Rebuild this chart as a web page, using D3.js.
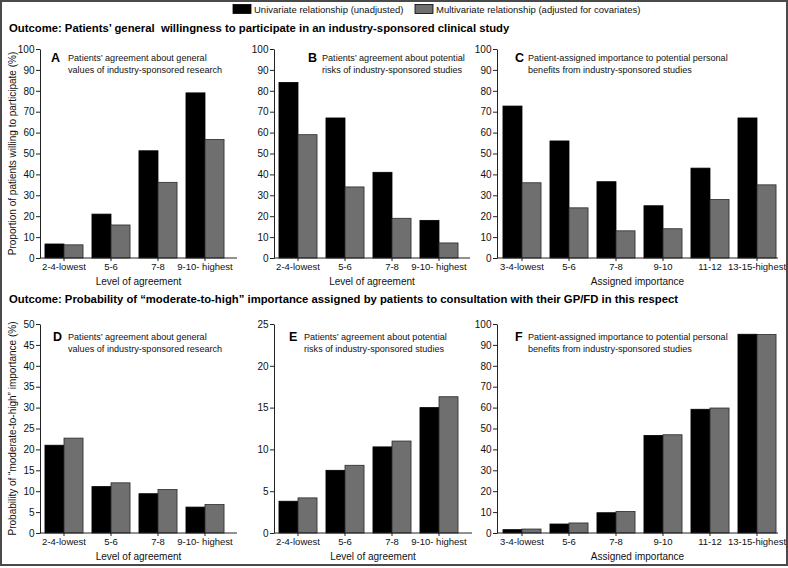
<!DOCTYPE html>
<html>
<head>
<meta charset="utf-8">
<script src="https://cdn.jsdelivr.net/npm/d3@7"></script>
<style>
  html, body { margin: 0; padding: 0; background: #fff; }
  svg { display: block; font-family: Arial, "Liberation Sans", sans-serif; }
</style>
</head>
<body>
<div id="chart"></div>
<script>
// categories
const agreementGroups = ["2-4-lowest", "5-6", "7-8", "9-10- highest"];
const importanceGroups = ["3-4-lowest", "5-6", "7-8", "9-10", "11-12", "13-15-highest"];
const seriesNames = ["Univariate relationship (unadjusted)", "Multivariate relationship (adjusted for covariates)"];

// outcome 1: willingness to participate (%)
const aUni = [6.7, 21, 51.3, 79];
const aMulti = [6.3, 15.8, 36.2, 56.7];
const bUni = [84, 67, 41, 18];
const bMulti = [59, 34, 19, 7.2];
const cUni = [72.7, 56, 36.5, 25, 43, 67];
const cMulti = [36, 24, 13, 14, 28, 35];

// outcome 2: probability of moderate-to-high importance (%)
const dUni = [21, 11.1, 9.4, 6.2];
const dMulti = [22.7, 12, 10.4, 6.8];
const eUni = [3.8, 7.5, 10.3, 15];
const eMulti = [4.2, 8.1, 11, 16.3];
const fUni = [1.6, 4.3, 9.7, 46.7, 59.2, 95.1];
const fMulti = [1.9, 4.8, 10.3, 47, 59.8, 95];

// tick labels
const ticks100 = [0, 10, 20, 30, 40, 50, 60, 70, 80, 90, 100];
const ticks50 = [0, 5, 10, 15, 20, 25, 30, 35, 40, 45, 50];
const ticks25 = [0, 5, 10, 15, 20, 25];

const W = 788, H = 568;
const colors = ["#000000", "#6f6f6f"];
const step = 47;

const svg = d3.select("#chart").append("svg")
    .attr("width", W)
    .attr("height", H);

// outer frame
svg.append("rect")
    .attr("x", 1).attr("y", 1)
    .attr("width", W - 2).attr("height", H - 4)
    .attr("fill", "none")
    .attr("stroke", "#4a4a4a")
    .attr("stroke-width", 2);

// legend
const legend = svg.append("g");
[[233, 254], [415, 436]].forEach(([sx, tx], i) => {
    legend.append("rect")
        .attr("x", sx).attr("y", 4.5)
        .attr("width", 18).attr("height", 9)
        .attr("fill", colors[i])
        .attr("stroke", "#000").attr("stroke-width", 0.8);
    legend.append("text")
        .attr("x", tx).attr("y", 12.5)
        .attr("font-size", 9.5)
        .attr("fill", "#111")
        .text(seriesNames[i]);
});

// row titles
svg.append("text")
    .attr("x", 9).attr("y", 32)
    .attr("font-size", 11.3).attr("font-weight", "bold")
    .attr("xml:space", "preserve")
    .text("Outcome: Patients\u2019 general  willingness to participate in an industry-sponsored clinical study");

svg.append("text")
    .attr("x", 9).attr("y", 303)
    .attr("font-size", 11.3).attr("font-weight", "bold")
    .text("Outcome: Probability of \u201cmoderate-to-high\u201d importance assigned by patients to consultation with their GP/FD in this respect");

const topRow = {top: 49, base: 258, capDy: 12};
const botRow = {top: 324, base: 533, capDy: 16};

const panels = [
    {row: topRow, x0: 40, x1: 237, c0: 64, cats: agreementGroups, uni: aUni, multi: aMulti, yMax: 100, ticks: ticks100,
     letter: "A", lx: 51, tx: 68, caption: ["Patients\u2019 agreement about general", "values of industry-sponsored research"],
     xTitle: "Level of agreement", yTitle: "Proportion of patients willing to participate (%)"},
    {row: topRow, x0: 274, x1: 470, c0: 298, cats: agreementGroups, uni: bUni, multi: bMulti, yMax: 100, ticks: ticks100,
     letter: "B", lx: 308, tx: 322, caption: ["Patients\u2019 agreement about potential", "risks of industry-sponsored studies"],
     xTitle: "Level of agreement"},
    {row: topRow, x0: 497, x1: 778, c0: 522, cats: importanceGroups, uni: cUni, multi: cMulti, yMax: 100, ticks: ticks100,
     letter: "C", lx: 515, tx: 528, caption: ["Patient-assigned importance to potential personal", "benefits from industry-sponsored studies"],
     xTitle: "Assigned importance"},
    {row: botRow, x0: 40, x1: 237, c0: 64, cats: agreementGroups, uni: dUni, multi: dMulti, yMax: 50, ticks: ticks50,
     letter: "D", lx: 53, tx: 68, caption: ["Patients\u2019 agreement about general", "values of industry-sponsored research"],
     xTitle: "Level of agreement", yTitle: "Probability of \u201cmoderate-to-high\u201d importance (%)"},
    {row: botRow, x0: 274, x1: 472, c0: 298, cats: agreementGroups, uni: eUni, multi: eMulti, yMax: 25, ticks: ticks25,
     letter: "E", lx: 289, tx: 304, caption: ["Patients\u2019 agreement about potential", "risks of industry-sponsored studies"],
     xTitle: "Level of agreement"},
    {row: botRow, x0: 497, x1: 778, c0: 522, cats: importanceGroups, uni: fUni, multi: fMulti, yMax: 100, ticks: ticks100,
     letter: "F", lx: 515, tx: 528, caption: ["Patient-assigned importance to potential personal", "benefits from industry-sponsored studies"],
     xTitle: "Assigned importance"}
];

function drawPanel(p) {
    const g = svg.append("g");
    const r = p.row;

    const y = d3.scaleLinear().domain([0, p.yMax]).range([r.base, r.top]);
    const start = p.c0 - step / 2;
    const x = d3.scaleBand()
        .domain(p.cats)
        .range([start, start + p.cats.length * step])
        .paddingInner(0.19)
        .paddingOuter(0.095);
    const xs = d3.scaleBand().domain([0, 1]).range([0, x.bandwidth()]);

    // bars
    const rows = p.cats.map((c, i) => ({cat: c, vals: [p.uni[i], p.multi[i]]}));
    g.append("g").selectAll("g")
        .data(rows)
        .join("g")
        .attr("transform", d => `translate(${x(d.cat)},0)`)
        .selectAll("rect")
        .data(d => d.vals.map((v, k) => ({k, v})))
        .join("rect")
        .attr("x", d => xs(d.k))
        .attr("y", d => y(d.v))
        .attr("width", xs.bandwidth())
        .attr("height", d => y(0) - y(d.v))
        .attr("fill", d => colors[d.k])
        .attr("stroke", d => d.k ? "#2a2a2a" : "#000")
        .attr("stroke-width", 0.8);

    // y axis
    const ya = g.append("g")
        .attr("transform", `translate(${p.x0},0)`)
        .call(d3.axisLeft(y).tickValues(p.ticks).tickSize(4).tickSizeOuter(0).tickPadding(1.5));
    ya.select(".domain").attr("stroke", "#222");
    ya.selectAll(".tick line").attr("stroke", "#222");
    ya.selectAll("text").attr("font-size", 10).attr("fill", "#111").attr("font-family", null);

    // x axis
    const xa = g.append("g")
        .attr("transform", `translate(0,${r.base})`)
        .call(d3.axisBottom(x).tickSize(3).tickSizeOuter(0).tickPadding(2));
    xa.select(".domain").remove();
    xa.append("line")
        .attr("x1", p.x0).attr("x2", p.x1)
        .attr("stroke", "#222");
    xa.selectAll(".tick line").attr("stroke", "#222");
    xa.selectAll("text").attr("font-size", 9.5).attr("fill", "#111").attr("font-family", null);

    // axis titles
    g.append("text")
        .attr("x", (p.x0 + p.x1) / 2).attr("y", r.base + 27)
        .attr("text-anchor", "middle")
        .attr("font-size", 10).attr("fill", "#111")
        .text(p.xTitle);

    if (p.yTitle) {
        g.append("text")
            .attr("transform", `translate(16,${(r.top + r.base) / 2}) rotate(-90)`)
            .attr("text-anchor", "middle")
            .attr("font-size", 10).attr("fill", "#111")
            .text(p.yTitle);
    }

    // caption
    g.append("text")
        .attr("x", p.lx).attr("y", r.top + r.capDy + 0.5)
        .attr("font-size", 12.5).attr("font-weight", "bold")
        .text(p.letter);
    g.append("text")
        .attr("font-size", 9.1).attr("fill", "#111")
        .selectAll("tspan")
        .data(p.caption)
        .join("tspan")
        .attr("x", p.tx)
        .attr("y", (d, i) => r.top + r.capDy + i * 12)
        .text(d => d);
}

panels.forEach(drawPanel);
</script>
</body>
</html>
